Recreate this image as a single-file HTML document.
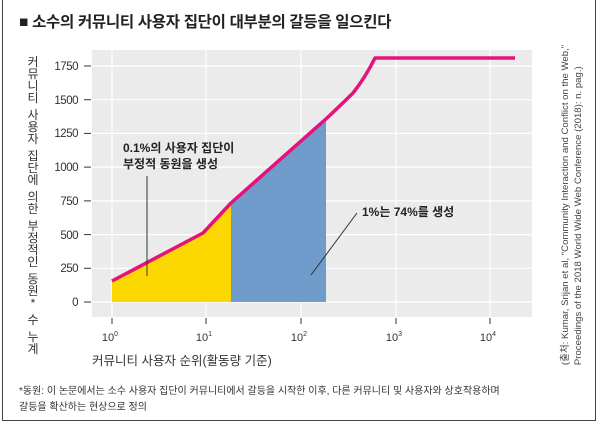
<!DOCTYPE html>
<html><head><meta charset="utf-8"><style>
body{margin:0;background:#fff;}
.f{font-family:"Liberation Sans","Noto Sans CJK KR",sans-serif;}
#wrap{position:relative;width:600px;height:425px;overflow:hidden;background:#fff;}
#frame{position:absolute;left:2px;top:-2px;width:594px;height:423px;border:1px solid #444;box-sizing:border-box;}
#src{position:absolute;left:572px;top:205px;transform:translate(-50%,-50%) rotate(-90deg);white-space:nowrap;font-size:9.6px;color:#444;line-height:13px;}
</style></head><body>
<div id="wrap" class="f">
<div id="frame"></div>
<div style="position:absolute;left:19px;top:10px;font-size:15.5px;font-weight:bold;color:#222;letter-spacing:-0.3px;">■ 소수의 커뮤니티 사용자 집단이 대부분의 갈등을 일으킨다</div>
<div id="src">(출처: Kumar, Srijan et al, "Community Interaction and Conflict on the Web,"<br>Proceedings of the 2018 World Wide Web Conference (2018): n. pag.)</div>
<svg width="600" height="425" style="position:absolute;left:0;top:0" class="f">
<g font-size="12" fill="#333" text-anchor="middle">
<text x="33" y="66">커</text><text x="33" y="78">뮤</text><text x="33" y="90">니</text><text x="33" y="102">티</text>
<text x="33" y="119">사</text><text x="33" y="131">용</text><text x="33" y="143">자</text>
<text x="33" y="160">집</text><text x="33" y="172">단</text><text x="33" y="184">에</text>
<text x="33" y="201">의</text><text x="33" y="213">한</text>
<text x="33" y="230">부</text><text x="33" y="242">정</text><text x="33" y="254">적</text><text x="33" y="266">인</text>
<text x="33" y="283">동</text><text x="33" y="295">원</text><text x="33" y="307">*</text>
<text x="33" y="324">수</text>
<text x="33" y="341">누</text><text x="33" y="353">계</text>
</g>
<rect x="92" y="50" width="440" height="267" fill="#ebebeb"/>
<g stroke="#fff" stroke-width="1.2">
<line x1="92" x2="532" y1="66" y2="66"/><line x1="92" x2="532" y1="99.7" y2="99.7"/><line x1="92" x2="532" y1="133.4" y2="133.4"/><line x1="92" x2="532" y1="167.1" y2="167.1"/><line x1="92" x2="532" y1="200.9" y2="200.9"/><line x1="92" x2="532" y1="234.6" y2="234.6"/><line x1="92" x2="532" y1="268.3" y2="268.3"/><line x1="92" x2="532" y1="302" y2="302"/>
<line x1="112" x2="112" y1="50" y2="317"/><line x1="206" x2="206" y1="50" y2="317"/><line x1="301" x2="301" y1="50" y2="317"/><line x1="396" x2="396" y1="50" y2="317"/><line x1="490" x2="490" y1="50" y2="317"/>
</g>
<polygon points="112,302 112,281 203,233 231,203 231,302" fill="#fdd800"/>
<polygon points="231,302 231,203 327,118 326,118 326,302" fill="#6f9ccb"/>
<path d="M112,281 L203,233 L231,203 L327,118 Q343,103 353,93 Q365,78 375,58 L515,58" fill="none" stroke="#e5127d" stroke-width="3.5" stroke-linejoin="round"/>
<g stroke="#333" stroke-width="1">
<line x1="84" x2="91" y1="66" y2="66"/><line x1="84" x2="91" y1="99.7" y2="99.7"/><line x1="84" x2="91" y1="133.4" y2="133.4"/><line x1="84" x2="91" y1="167.1" y2="167.1"/><line x1="84" x2="91" y1="200.9" y2="200.9"/><line x1="84" x2="91" y1="234.6" y2="234.6"/><line x1="84" x2="91" y1="268.3" y2="268.3"/><line x1="84" x2="91" y1="302" y2="302"/>
<line x1="112" x2="112" y1="318" y2="324"/><line x1="206" x2="206" y1="318" y2="324"/><line x1="301" x2="301" y1="318" y2="324"/><line x1="396" x2="396" y1="318" y2="324"/><line x1="490" x2="490" y1="318" y2="324"/>
<line x1="147" x2="147" y1="176" y2="276"/><line x1="357" x2="311" y1="213" y2="275"/>
</g>
<g font-size="11.5" fill="#333" text-anchor="end" letter-spacing="-0.5">
<text x="78" y="70">1750</text><text x="78" y="104">1500</text><text x="78" y="137">1250</text><text x="78" y="171">1000</text><text x="78" y="205">750</text><text x="78" y="239">500</text><text x="78" y="272">250</text><text x="78" y="306">0</text>
</g>
<g font-size="11" fill="#333" text-anchor="middle">
<text x="110" y="341">10<tspan font-size="7" dy="-5">0</tspan></text>
<text x="204" y="341">10<tspan font-size="7" dy="-5">1</tspan></text>
<text x="299" y="341">10<tspan font-size="7" dy="-5">2</tspan></text>
<text x="394" y="341">10<tspan font-size="7" dy="-5">3</tspan></text>
<text x="488" y="341">10<tspan font-size="7" dy="-5">4</tspan></text>
</g>
<text x="92" y="365" font-size="12.5" fill="#333">커뮤니티 사용자 순위(활동량 기준)</text>
<text x="123" y="152" font-size="12" font-weight="bold" fill="#222">0.1%의 사용자 집단이</text>
<text x="123" y="168" font-size="12" font-weight="bold" fill="#222">부정적 동원을 생성</text>
<text x="362" y="216" font-size="12" font-weight="bold" fill="#222">1%는 74%를 생성</text>
<text x="19" y="394" font-size="10" fill="#333">*동원: 이 논문에서는 소수 사용자 집단이 커뮤니티에서 갈등을 시작한 이후, 다른 커뮤니티 및 사용자와 상호작용하며</text>
<text x="19" y="410" font-size="10" fill="#333">갈등을 확산하는 현상으로 정의</text>
</svg>
</div>
</body></html>
